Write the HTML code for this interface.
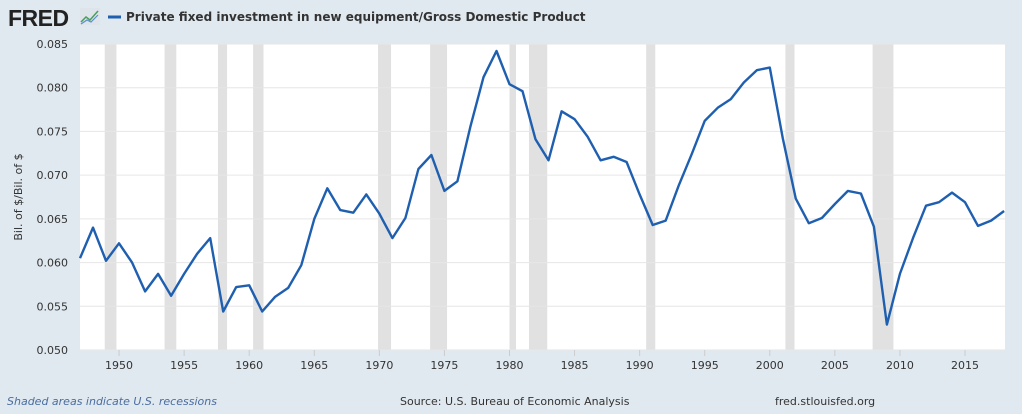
<!DOCTYPE html>
<html><head><meta charset="utf-8"><style>
body{margin:0;width:1022px;height:410px;background:#e1e9f0;font-family:"DejaVu Sans","Liberation Sans",sans-serif;overflow:hidden}
</style></head><body>
<svg id="c" width="1022" height="410" xmlns="http://www.w3.org/2000/svg">
<text x="8" y="26" font-family="Liberation Sans,sans-serif" font-weight="bold" font-size="23" letter-spacing="-0.5" fill="#222">FRED</text>
<g><rect x="80" y="8" width="20" height="17" fill="#dde4ea"/><polyline points="81,22 86,17 90,20 98,11" fill="none" stroke="#4a9e5c" stroke-width="1.5"/><polyline points="81,24 87,20 91,22 98,15" fill="none" stroke="#5b8fc9" stroke-width="1.2"/></g>
<line x1="108" y1="17" x2="121" y2="17" stroke="#1f5fb0" stroke-width="3"/>
<text x="126" y="21" font-size="12" font-weight="bold" fill="#333">Private fixed investment in new equipment/Gross Domestic Product</text>
<rect x="80" y="44" width="925" height="306" fill="#fff"/>
<g id="rec"></g><g id="grid"></g><g id="xt"></g>
<text transform="translate(22,197) rotate(-90)" text-anchor="middle" font-size="11" fill="#333">Bil. of $/Bil. of $</text>
<path id="line" fill="none" stroke="#1f5fb0" stroke-width="2.4" stroke-linejoin="round"/>
<text x="7" y="405" font-size="11" font-style="italic" fill="#4a6da0">Shaded areas indicate U.S. recessions</text>
<text x="400" y="405" font-size="11" fill="#333">Source: U.S. Bureau of Economic Analysis</text>
<text x="775" y="405" font-size="11" fill="#333">fred.stlouisfed.org</text>
</svg>
<script>
const values=[0.0605,0.0640,0.0602,0.0622,0.0600,0.0567,0.0587,0.0562,0.0587,0.0610,0.0628,0.0544,0.0572,0.0574,0.0544,0.0561,0.0571,0.0597,0.0650,0.0685,0.0660,0.0657,0.0678,0.0656,0.0628,0.0651,0.0707,0.0723,0.0682,0.0693,0.0756,0.0812,0.0842,0.0804,0.0796,0.0741,0.0717,0.0773,0.0764,0.0744,0.0717,0.0721,0.0715,0.0678,0.0643,0.0648,0.0688,0.0724,0.0762,0.0777,0.0787,0.0806,0.0820,0.0823,0.0742,0.0673,0.0645,0.0651,0.0667,0.0682,0.0679,0.0641,0.0529,0.0587,0.0628,0.0665,0.0669,0.0680,0.0669,0.0642,0.0648,0.0659];
const startYear=1947;
const yTicks=[0.050,0.055,0.060,0.065,0.070,0.075,0.080,0.085];
const xTicks=[1950,1955,1960,1965,1970,1975,1980,1985,1990,1995,2000,2005,2010,2015];
const recStart=[1948.9,1953.5,1957.6,1960.3,1969.9,1973.9,1980.0,1981.5,1990.5,2001.2,2007.9];
const recEnd=[1949.8,1954.4,1958.3,1961.1,1970.9,1975.2,1980.5,1982.9,1991.2,2001.9,2009.5];
const NS="http://www.w3.org/2000/svg";
const X=y=>80+(y-1947)*13.015;
const Y=v=>350-(v-0.05)/0.035*306;
function mk(t,a,p){const e=document.createElementNS(NS,t);for(const k in a)e.setAttribute(k,a[k]);p.appendChild(e);return e;}
const rec=document.getElementById('rec');
recStart.forEach((s,i)=>{const r=mk('rect',{x:X(s),y:44,width:X(recEnd[i])-X(s),height:306,fill:'#e1e1e1'},rec);

});
const g=document.getElementById('grid');
yTicks.forEach(v=>{const l=mk('line',{x1:80,x2:1005,y1:Y(v),y2:Y(v),stroke:'#e6e6e6'},g);


const t=mk('text',{x:68,y:Y(v)+4,'text-anchor':'end','font-size':11,fill:'#333'},g);t.textContent=v.toFixed(3);

});
const xt=document.getElementById('xt');
xTicks.forEach(y=>{const l=mk('line',{x1:X(y),x2:X(y),y1:350,y2:356,stroke:'#ccc'},xt);


const t=mk('text',{x:X(y),y:369,'text-anchor':'middle','font-size':11,fill:'#333'},xt);t.textContent=y;

});
document.getElementById('line').setAttribute('d',values.map((v,i)=>(i?'L':'M')+X(startYear+i).toFixed(1)+','+Y(v).toFixed(1)).join(''));
</script>
</body></html>
